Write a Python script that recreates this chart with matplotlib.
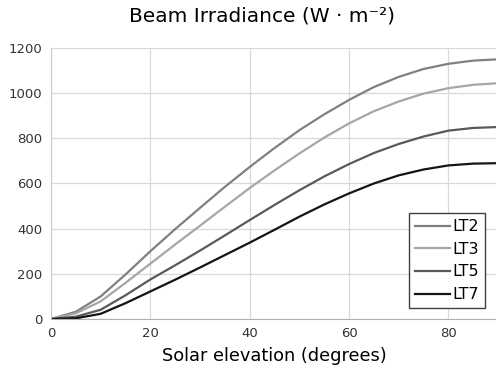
import matplotlib
matplotlib.use("Agg")
import matplotlib.pyplot as plt

# Solar elevation (degrees)
elevation = [0, 5, 10, 15, 20, 25, 30, 35, 40, 45, 50, 55, 60, 65, 70, 75, 80, 85, 90]

# Beam irradiance for each Linke turbidity (W/m2)
lt2 = [0, 32, 100, 197, 300, 398, 492, 585, 673, 757, 836, 906, 970, 1027, 1072, 1107, 1130, 1144, 1150]
lt3 = [0, 25, 78, 160, 245, 330, 413, 497, 580, 658, 733, 803, 866, 920, 963, 998, 1022, 1037, 1044]
lt5 = [0, 10, 41, 105, 175, 238, 303, 370, 438, 505, 570, 631, 686, 735, 775, 808, 834, 846, 850]
lt7 = [0, 3, 23, 70, 122, 174, 228, 283, 338, 395, 453, 507, 556, 600, 636, 662, 680, 688, 690]

labels = ["LT2", "LT3", "LT5", "LT7"]
colors = ["#808080", "#a6a6a6", "#595959", "#141414"]

plt.rcParams["font.family"] = ["DejaVu Sans"]

fig = plt.figure(figsize=(4.96, 3.78), dpi=100)
ax = fig.add_axes([51 / 496, 59 / 378, 447 / 496, 271 / 378])

for series, lab, col in zip([lt2, lt3, lt5, lt7], labels, colors):
    ax.plot(elevation, series, color=col, lw=1.6, label=lab)

ax.set_xlim(0, 90)
ax.set_ylim(0, 1200)
ax.set_xticks([0, 20, 40, 60, 80])
ax.set_yticks(range(0, 1201, 200))
ax.grid(True, color="#d9d9d9", lw=0.9)
ax.set_axisbelow(True)
for s in ["top", "right"]:
    ax.spines[s].set_visible(False)
ax.spines["left"].set_color("#c8c8c8")
ax.spines["bottom"].set_color("#b0b0b0")
ax.tick_params(length=0, labelsize=9.5, colors="#333333", pad=6)

ax.set_xlabel("Solar elevation (degrees)", fontsize=12.8, labelpad=5)
fig.text(0.528, 0.958, "Beam Irradiance (W · m⁻²)", ha="center", va="center", fontsize=14.5)

leg = ax.legend(loc="lower right", bbox_to_anchor=(0.97, 0.04), fontsize=11.5,
                handlelength=2.2, handletextpad=0.1, labelspacing=0.48,
                borderpad=0.38, borderaxespad=0, fancybox=False, framealpha=1)
leg.get_frame().set_edgecolor("#404040")
leg.get_frame().set_linewidth(1.0)

fig.savefig("out.png", dpi=100)
